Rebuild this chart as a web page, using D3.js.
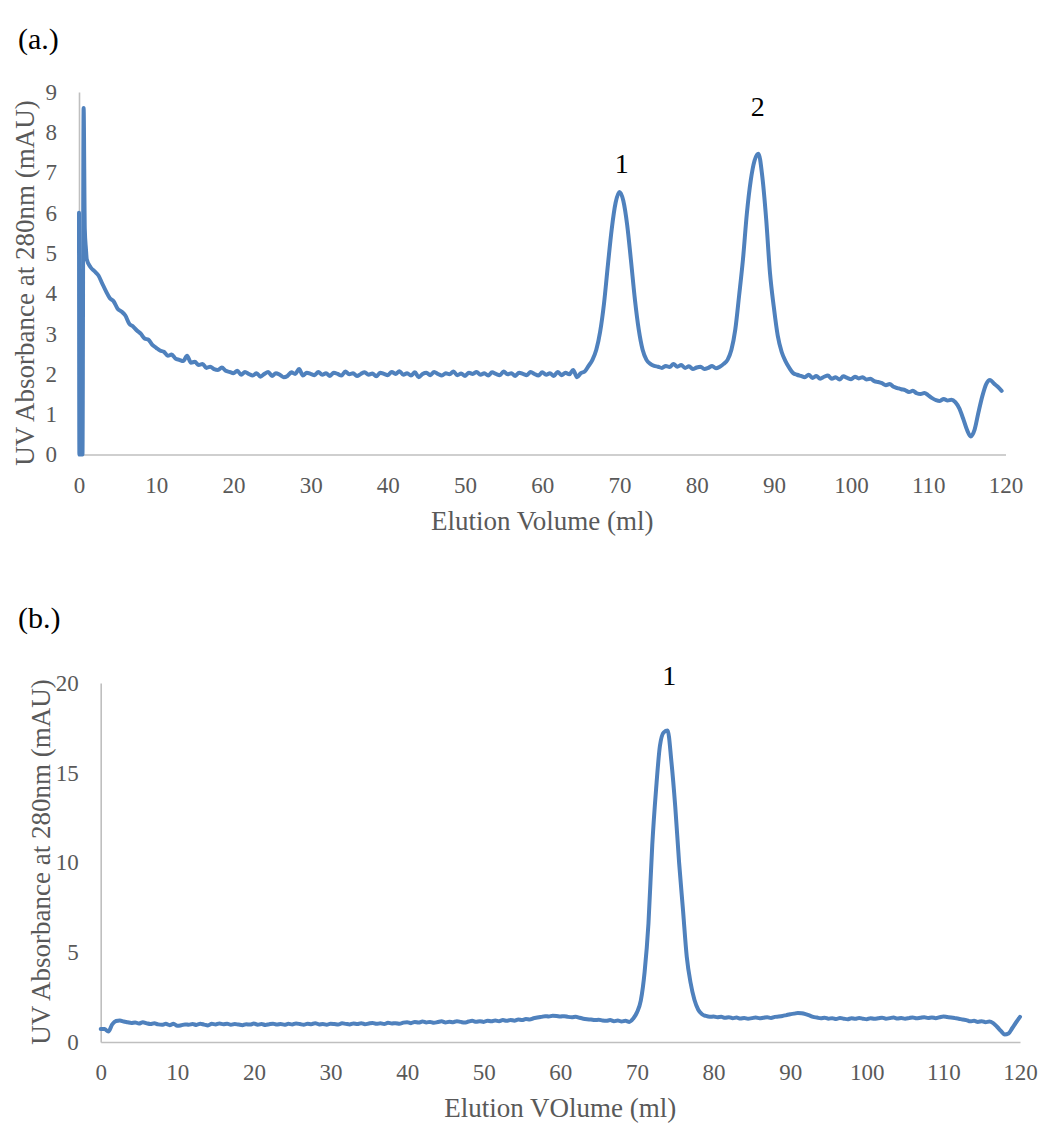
<!DOCTYPE html>
<html>
<head>
<meta charset="utf-8">
<script src="https://cdn.jsdelivr.net/npm/d3@7"></script>
<style>
  html, body { margin: 0; padding: 0; background: #fff; }
  svg { display: block; }
  text { font-family: "Liberation Serif", "Times New Roman", serif; }
</style>
</head>
<body>
<svg id="chart" width="1044" height="1124"></svg>
<script>
// ---------- Panel (a): column run with two eluted peaks ----------
// Injection artefact at the very start of the run (ml, mAU)
const startVolumeA = [0, 0.05, 0.45, 0.6, 0.75, 0.9];
const startAbsA    = [6.0, 0.0, 0.0, 8.6, 5.6, 5.1];
// Remaining trace sampled every 0.5 ml from 1.0 ml
const gridStartA = 1.0, gridStepA = 0.5;
const absA = [
  4.85, 4.65, 4.55, 4.45, 4.25, 4.05, 3.88, 3.80, 3.62, 3.55,   // 1.0 - 5.5
  3.45, 3.25, 3.18, 3.08, 3.00, 2.88, 2.85, 2.72, 2.65, 2.58,   // 6.0 - 10.5
  2.55, 2.45, 2.48, 2.38, 2.35, 2.32, 2.45, 2.28, 2.30, 2.22,   // 11.0 - 15.5
  2.25, 2.15, 2.18, 2.12, 2.10, 2.16, 2.08, 2.05, 2.02, 2.08,   // 16.0 - 20.5
  1.98, 2.05, 2.00, 1.96, 2.02, 1.93, 2.00, 2.05, 1.95, 2.02,   // 21.0 - 25.5
  1.98, 1.92, 1.95, 2.04, 2.00, 2.12, 1.96, 2.03, 2.00, 1.97,   // 26.0 - 30.5
  2.05, 1.98, 2.02, 1.95, 2.03, 2.00, 1.96, 2.06, 1.99, 2.02,   // 31.0 - 35.5
  1.95, 2.00, 2.04, 1.98, 2.01, 1.94, 2.03, 2.00, 1.97, 2.05,   // 36.0 - 40.5
  2.00, 2.07, 1.98, 2.02, 1.96, 2.04, 1.92, 2.00, 2.03, 1.97,   // 41.0 - 45.5
  2.05, 2.00, 1.96, 2.02, 1.99, 2.06, 1.97, 2.01, 1.95, 2.03,   // 46.0 - 50.5
  2.00, 2.05, 1.98, 2.02, 1.96, 2.04, 2.00, 1.97, 2.06, 1.99,   // 51.0 - 55.5
  2.02, 1.95, 2.03, 2.00, 1.97, 2.05, 2.00, 1.96, 2.04, 1.98,   // 56.0 - 60.5
  2.02, 1.95, 2.05, 1.97, 2.03, 1.99, 2.10, 1.92, 2.02, 2.06,   // 61.0 - 65.5
  2.20, 2.35, 2.60, 3.05, 3.75, 4.70, 5.60, 6.25, 6.52, 6.30,   // 66.0 - 70.5
  5.70, 4.80, 3.85, 3.10, 2.60, 2.35, 2.25, 2.20, 2.18, 2.15,   // 71.0 - 75.5
  2.20, 2.17, 2.25, 2.18, 2.22, 2.15, 2.19, 2.12, 2.16, 2.18,   // 76.0 - 80.5
  2.12, 2.15, 2.20, 2.14, 2.18, 2.25, 2.35, 2.60, 3.10, 3.95,   // 81.0 - 85.5
  4.85, 5.98, 6.80, 7.30, 7.47, 6.90, 5.85, 4.50, 3.65, 2.95,   // 86.0 - 90.5
  2.55, 2.32, 2.15, 2.02, 1.98, 1.95, 1.92, 1.98, 1.90, 1.95,   // 91.0 - 95.5
  1.88, 1.93, 1.96, 1.88, 1.92, 1.86, 1.94, 1.90, 1.87, 1.93,   // 96.0 - 100.5
  1.89, 1.92, 1.86, 1.88, 1.82, 1.80, 1.77, 1.72, 1.75, 1.68,   // 101.0 - 105.5
  1.65, 1.62, 1.60, 1.55, 1.58, 1.52, 1.50, 1.53, 1.47, 1.40,   // 106.0 - 110.5
  1.35, 1.33, 1.38, 1.34, 1.36, 1.30, 1.15, 0.90, 0.62, 0.45,   // 111.0 - 115.5
  0.62, 1.05, 1.45, 1.75, 1.85, 1.76, 1.68, 1.58               // 116.0 - 119.5
];
const peakLabelsA = [
  { text: "1", volume: 70.3, level: 7.0 },
  { text: "2", volume: 87.9, level: 8.4 }
];
const xTicksA = [0, 10, 20, 30, 40, 50, 60, 70, 80, 90, 100, 110, 120];
const yTicksA = [0, 1, 2, 3, 4, 5, 6, 7, 8, 9];

// ---------- Panel (b): column run with a single peak ----------
const gridStartB = 0, gridStepB = 0.5;
const absB = [
  0.72, 0.72, 0.58, 0.98, 1.17, 1.20, 1.14, 1.10, 1.06, 1.09,   // 0.0 - 4.5
  1.03, 1.10, 1.04, 1.00, 1.05, 0.98, 0.96, 1.01, 0.94, 1.02,   // 5.0 - 9.5
  0.90, 0.93, 0.98, 0.96, 1.00, 0.95, 1.02, 0.97, 0.92, 1.01,   // 10.0 - 14.5
  0.98, 1.03, 0.99, 1.02, 0.96, 1.00, 0.97, 0.94, 0.99, 0.97,   // 15.0 - 19.5
  1.03, 0.96, 1.00, 0.95, 0.99, 1.02, 0.97, 1.00, 0.96, 1.01,   // 20.0 - 24.5
  0.98, 1.03, 1.00, 0.96, 1.02, 0.99, 1.05, 0.98, 1.00, 0.96,   // 25.0 - 29.5
  1.02, 1.00, 0.97, 1.04, 1.01, 0.98, 1.03, 1.00, 1.05, 0.99,   // 30.0 - 34.5
  1.03, 1.06, 1.01, 1.04, 1.00, 1.07, 1.03, 1.05, 1.01, 1.08,   // 35.0 - 39.5
  1.10, 1.05, 1.12, 1.08, 1.14, 1.09, 1.12, 1.07, 1.11, 1.15,   // 40.0 - 44.5
  1.09, 1.13, 1.10, 1.16, 1.12, 1.08, 1.14, 1.18, 1.13, 1.16,   // 45.0 - 49.5
  1.12, 1.19, 1.15, 1.20, 1.16, 1.22, 1.18, 1.23, 1.19, 1.25,   // 50.0 - 54.5
  1.22, 1.28, 1.26, 1.32, 1.36, 1.40, 1.44, 1.42, 1.46, 1.45,   // 55.0 - 59.5
  1.42, 1.44, 1.40, 1.38, 1.41, 1.35, 1.30, 1.27, 1.25, 1.22,   // 60.0 - 64.5
  1.24, 1.20, 1.18, 1.22, 1.16, 1.20, 1.14, 1.18, 1.12, 1.30,   // 65.0 - 69.5
  1.65, 2.30, 3.90, 6.60, 11.0, 14.1, 16.5, 17.25, 17.35, 15.6, // 70.0 - 74.5
  13.1, 10.0, 7.40, 4.75, 3.30, 2.35, 1.80, 1.55, 1.45, 1.40,   // 75.0 - 79.5
  1.42, 1.38, 1.40, 1.35, 1.38, 1.33, 1.36, 1.31, 1.34, 1.30,   // 80.0 - 84.5
  1.33, 1.36, 1.32, 1.35, 1.38, 1.34, 1.40, 1.42, 1.45, 1.50,   // 85.0 - 89.5
  1.55, 1.58, 1.62, 1.60, 1.55, 1.48, 1.40, 1.36, 1.32, 1.35,   // 90.0 - 94.5
  1.30, 1.33, 1.28, 1.34, 1.30, 1.27, 1.32, 1.29, 1.34, 1.30,   // 95.0 - 99.5
  1.27, 1.33, 1.29, 1.32, 1.35, 1.30, 1.33, 1.36, 1.31, 1.34,   // 100.0 - 104.5
  1.30, 1.33, 1.37, 1.32, 1.35, 1.38, 1.34, 1.37, 1.33, 1.38,   // 105.0 - 109.5
  1.42, 1.39, 1.36, 1.33, 1.30, 1.25, 1.22, 1.15, 1.18, 1.12,   // 110.0 - 114.5
  1.16, 1.10, 1.14, 1.05, 0.85, 0.62, 0.42, 0.48, 0.78, 1.10,   // 115.0 - 119.5
  1.40                                                          // 120.0
];
const peakLabelsB = [ { text: "1", volume: 74.2, level: 19.9 } ];
const xTicksB = [0, 10, 20, 30, 40, 50, 60, 70, 80, 90, 100, 110, 120];
const yTicksB = [0, 5, 10, 15, 20];

// ---------- build point lists ----------
const seriesA = startVolumeA.map((v, i) => ({ v, a: startAbsA[i] }))
  .concat(absA.map((a, i) => ({ v: gridStartA + i * gridStepA, a })));
const seriesB = absB.map((a, i) => ({ v: gridStartB + i * gridStepB, a }));

const svg = d3.select("#chart");
const LINE = "#4f81bd", AXIS = "#bfbfbf", TICK = "#595959";

function panel(cfg) {
  const x = d3.scaleLinear().domain([0, 120]).range([cfg.left, cfg.right]);
  const y = d3.scaleLinear().domain([0, cfg.yMax]).range([cfg.bottom, cfg.top]);
  const g = svg.append("g");

  // x axis (labels only, no tick marks)
  const xAxis = g.append("g")
    .attr("transform", `translate(0,${cfg.bottom})`)
    .call(d3.axisBottom(x).tickValues(cfg.xTicks).tickSize(0).tickPadding(22));
  xAxis.select(".domain").attr("stroke", AXIS).attr("stroke-width", 1.6);
  xAxis.selectAll("text").attr("fill", TICK).attr("font-size", 23)
    .attr("font-family", "Liberation Serif");

  const yAxis = g.append("g")
    .attr("transform", `translate(${cfg.left},0)`)
    .call(d3.axisLeft(y).tickValues(cfg.yTicks).tickSize(0).tickPadding(22));
  yAxis.select(".domain").attr("stroke", AXIS).attr("stroke-width", 1.6);
  yAxis.selectAll("text").attr("fill", TICK).attr("font-size", 23)
    .attr("font-family", "Liberation Serif");

  const line = d3.line().curve(d3.curveMonotoneX)
    .x(d => x(d.v)).y(d => y(d.a));
  g.append("path").datum(cfg.series)
    .attr("fill", "none").attr("stroke", LINE).attr("stroke-width", 4)
    .attr("stroke-linejoin", "round").attr("stroke-linecap", "round")
    .attr("d", line);

  g.selectAll(".peak").data(cfg.peaks).join("text")
    .attr("x", d => x(d.volume)).attr("y", d => y(d.level))
    .attr("text-anchor", "middle").attr("font-size", 28).attr("fill", "#000")
    .text(d => d.text);

  g.append("text")
    .attr("x", (cfg.left + cfg.right) / 2).attr("y", cfg.xTitleY)
    .attr("text-anchor", "middle").attr("font-size", 27).attr("fill", TICK)
    .text(cfg.xTitle);

  g.append("text")
    .attr("transform", `translate(${cfg.yTitleX},${cfg.yTitleCenter}) rotate(-90)`)
    .attr("text-anchor", "middle").attr("font-size", 27).attr("fill", TICK)
    .text(cfg.yTitle);

  g.append("text").attr("x", 18).attr("y", cfg.tagY)
    .attr("font-size", 30).attr("fill", "#000").text(cfg.tag);
}

panel({
  tag: "(a.)", tagY: 49,
  left: 79, right: 1005.5, top: 92, bottom: 454.5, yMax: 9,
  xTicks: xTicksA, yTicks: yTicksA, series: seriesA, peaks: peakLabelsA,
  xTitle: "Elution Volume (ml)", xTitleY: 530,
  yTitle: "UV Absorbance at 280nm (mAU)", yTitleX: 34, yTitleCenter: 283
});

panel({
  tag: "(b.)", tagY: 628,
  left: 100.7, right: 1020, top: 683, bottom: 1042, yMax: 20,
  xTicks: xTicksB, yTicks: yTicksB, series: seriesB, peaks: peakLabelsB,
  xTitle: "Elution VOlume (ml)", xTitleY: 1117,
  yTitle: "UV Absorbance at 280nm (mAU)", yTitleX: 50, yTitleCenter: 862
});
</script>
</body>
</html>
